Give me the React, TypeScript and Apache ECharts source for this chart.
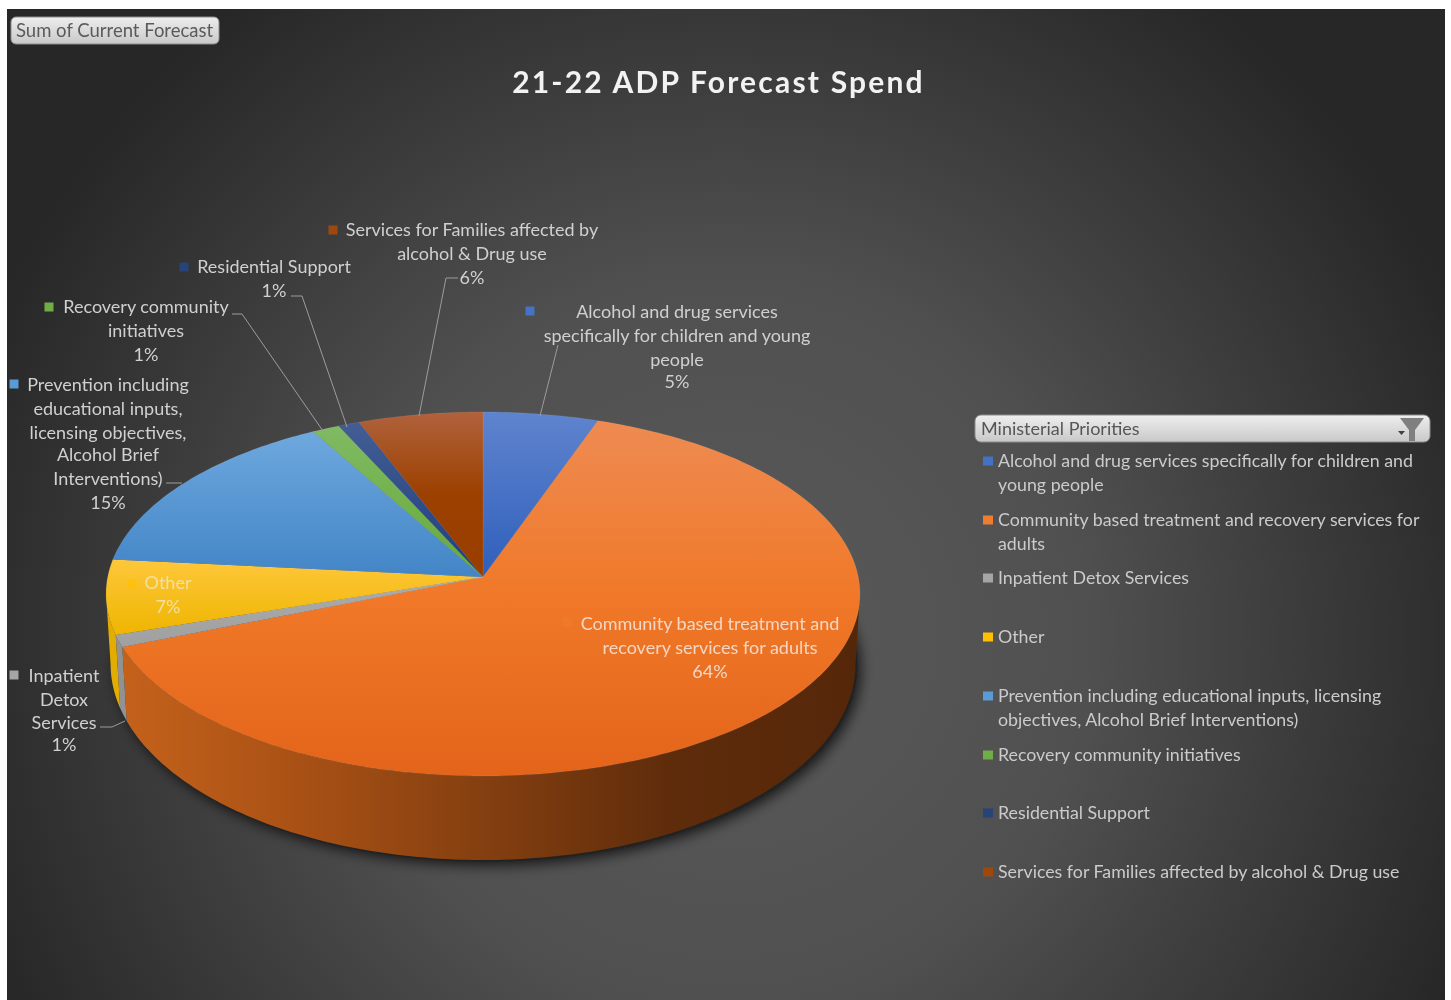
import React, { useEffect, useRef } from "react";
import * as echarts from "echarts";

const titleText = "21-22 ADP Forecast Spend";
const fieldButtonText = "Sum of Current Forecast";
const legendTitle = "Ministerial Priorities";
const categories = [
  "Alcohol and drug services specifically for children and young people",
  "Community based treatment and recovery services for adults",
  "Inpatient Detox Services",
  "Other",
  "Prevention including educational inputs, licensing objectives, Alcohol Brief Interventions)",
  "Recovery community initiatives",
  "Residential Support",
  "Services for Families affected by alcohol & Drug use",
];
const shares = [5.4, 63.5, 1.05, 6.6, 15.3, 1.3, 1.0, 5.85];
const legendLines = [
  ["Alcohol and drug services specifically for children and", "young people"],
  ["Community based treatment and recovery services for", "adults"],
  ["Inpatient Detox Services"],
  ["Other"],
  ["Prevention including educational inputs, licensing", "objectives, Alcohol Brief Interventions)"],
  ["Recovery community initiatives"],
  ["Residential Support"],
  ["Services for Families affected by alcohol & Drug use"],
];
const labelLines = [
  ["Alcohol and drug services", "specifically for children and young", "people"],
  ["Community based treatment and", "recovery services for adults"],
  ["Inpatient", "Detox", "Services"],
  ["Other"],
  ["Prevention including", "educational inputs,", "licensing objectives,", "Alcohol Brief", "Interventions)"],
  ["Recovery community", "initiatives"],
  ["Residential Support"],
  ["Services for Families affected by", "alcohol & Drug use"],
];
const legendColors = ["#4472C4", "#ED7D31", "#A5A5A5", "#FFC000", "#5B9BD5", "#70AD47", "#264478", "#9E480E"];
const topStops = [
  ["#5F84CE", "#2F5FBB"],
  ["#EE8B52", "#F07828", "#E3641A"],
  ["#ABABAB", "#A0A0A0"],
  ["#FEC73A", "#EFB500"],
  ["#6EA8DE", "#4285C6"],
  ["#80BA64", "#66AA38"],
  ["#445E94", "#1E3E7E"],
  ["#B0623C", "#9C4000", "#9A3E00"],
];
const wallStops = [
  ["#2F4F8F", "#2F4F8F"],
  ["#C6631C", "#A95115", "#843F10", "#5E2C0B", "#552709"],
  ["#929292", "#858585"],
  ["#E2AC00", "#CF9C00"],
  ["#3B6E9E", "#3B6E9E"],
  ["#4F7E30", "#4F7E30"],
  ["#1D3560", "#1D3560"],
  ["#6E3208", "#6E3208"],
];

const CX = 483, CY = 577, A = 375.3, B = 180.4, K = 0.0935;
const sum = shares.reduce((a, b) => a + b, 0);
const cumulative = shares.map((_, i) => shares.slice(0, i).reduce((a, b) => a + b, 0));
const rim = (deg: number) => {
  const t = (deg * Math.PI) / 180;
  const d = 1 + K * Math.cos(t);
  return [CX + (A * Math.sin(t)) / d, CY - (B * Math.cos(t)) / d];
};
const lower = (p: number[]) => [CX + (p[0] - CX) * 0.988, p[1] + 74 + (p[1] - 646) * 0.077];
const arc = (from: number, to: number) => {
  const n = Math.max(2, Math.ceil(Math.abs(to - from)));
  return Array.from({ length: n + 1 }, (_, i) => rim(from + ((to - from) * i) / n));
};
const gradient = (stops: string[], x: number, y: number, x2: number, y2: number, global: boolean) => ({
  type: "linear", x, y, x2, y2, global,
  colorStops: stops.map((color, i) => ({ offset: i / (stops.length - 1), color })),
});
const VIS_FROM = 95.4, VIS_TO = 264.6;

const renderWall = (params: any, api: any) => {
  const i = params.dataIndex;
  const s = Math.max((api.value(1) / sum) * 360, VIS_FROM);
  const e = Math.min(((api.value(1) + api.value(0)) / sum) * 360, VIS_TO);
  if (e <= s) return { type: "group", children: [] };
  const top = arc(s, e);
  const points = [...top, ...top.slice().reverse().map(lower)];
  return {
    type: "polygon",
    shape: { points },
    style: { fill: gradient(wallStops[i], 110, 0, 860, 0, true) },
    silent: true,
  };
};
const renderTop = (params: any, api: any) => {
  const i = params.dataIndex;
  const s = (api.value(1) / sum) * 360;
  const e = ((api.value(1) + api.value(0)) / sum) * 360;
  return {
    type: "polygon",
    shape: { points: [[CX, CY], ...arc(s, e)] },
    style: {
      fill: gradient(topStops[i], 0, 0, 0, 1, false),
      stroke: "rgba(255,255,255,0.12)",
      lineWidth: 0.6,
    },
    silent: true,
  };
};

const FONT = "Lato";
const LABEL = "#D0D0D0";
const labelLayout = [
  { x: 677, ys: [311, 335, 359, 381], ix: 530, iy: 311, color: LABEL },
  { x: 710, ys: [623, 647, 671], ix: 567, iy: 622, color: "#F3D6C4" },
  { x: 64, ys: [675, 699, 722, 744], ix: 14, iy: 675, color: LABEL },
  { x: 168, ys: [582, 606], ix: 132, iy: 584, color: "#F2E0A2" },
  { x: 108, ys: [384, 408, 432, 454, 478, 502], ix: 14, iy: 384, color: LABEL },
  { x: 146, ys: [306, 330, 354], ix: 49, iy: 307, color: LABEL },
  { x: 274, ys: [266, 290], ix: 184, iy: 267, color: LABEL },
  { x: 472, ys: [229, 253, 277], ix: 333, iy: 230, color: LABEL },
];
const leaderLines = [
  [[558, 345], [540, 416]],
  [[100, 727], [112, 727], [125, 721]],
  [[166, 483], [182, 483]],
  [[232, 314], [242, 314], [323, 431]],
  [[291, 296], [302, 296], [347, 427]],
  [[458, 278], [446, 278], [419, 416]],
];
const legendRowY = [460, 519, 577, 636, 695, 754, 812, 871];

const text = (t: string, x: number, y: number, o: any = {}) => ({
  type: "text", z: 20, silent: true,
  x, y,
  style: {
    text: t, x: 0, y: 0,
    fill: o.fill ?? LABEL,
    font: `${o.weight ?? "normal"} ${o.size ?? 18}px ${FONT}`,
    align: o.align ?? "center",
    verticalAlign: "middle",
  },
});

function buildGraphic() {
  const els: any[] = [];
  els.push({
    type: "rect", z: -10, silent: true,
    shape: { x: 7, y: 9, width: 1438, height: 991 },
    style: {
      fill: {
        type: "radial", x: 726, y: 640, r: 800, global: true,
        colorStops: [
          { offset: 0, color: "#5A5A5A" },
          { offset: 0.45, color: "#505050" },
          { offset: 1, color: "#272727" },
        ],
      },
    },
  });
  // soft shadow under the pie
  els.push({
    type: "polygon", z: -5, silent: true,
    shape: { points: arc(80, 280).map(lower).map((p) => [p[0] + 2, p[1] + 2]) },
    style: { fill: "#222", shadowBlur: 14, shadowColor: "rgba(0,0,0,0.75)", shadowOffsetX: 3, shadowOffsetY: 3 },
  });
  // field button
  els.push({
    type: "rect", z: 15, silent: true,
    shape: { x: 11, y: 17, width: 208, height: 27, r: 5 },
    style: { fill: gradient(["#EDEDED", "#C9C9C9"], 0, 0, 0, 1, false), stroke: "#8C8C8C", lineWidth: 1 },
  });
  els.push(text(fieldButtonText, 16, 29.5, { align: "left", fill: "#5A5A5A", size: 18.5 }));
  // title
  els.push(text(titleText, 718.5, 81, { size: 30, weight: "bold", fill: "#F2F2F2" }));
  // data labels
  labelLines.forEach((lines, i) => {
    const l = labelLayout[i];
    const all = [...lines, `${Math.round((shares[i] / sum) * 100)}%`];
    all.forEach((t, j) => els.push(text(t, l.x, l.ys[j], { fill: l.color })));
    const light = i === 1 || i === 3;
    els.push({
      type: "rect", z: 20, silent: true,
      shape: { x: l.ix - 4.5, y: l.iy - 4.5, width: 9, height: 9 },
      style: { fill: legendColors[i], opacity: light ? 0.6 : 1 },
    });
  });
  leaderLines.forEach((points) =>
    els.push({
      type: "polyline", z: 18, silent: true,
      shape: { points },
      style: { stroke: "#9C9C9C", lineWidth: 1, fill: "none" },
    })
  );
  // legend
  els.push({
    type: "rect", z: 15, silent: true,
    shape: { x: 975, y: 415, width: 455, height: 27, r: 6 },
    style: { fill: gradient(["#EFEFEF", "#C8C8C8"], 0, 0, 0, 1, false), stroke: "#8C8C8C", lineWidth: 1 },
  });
  els.push(text(legendTitle, 981, 428, { align: "left", fill: "#565656", size: 18 }));
  els.push({
    type: "polygon", z: 20, silent: true,
    shape: { points: [[1400, 418], [1424, 418], [1415, 430], [1415, 441], [1409, 441], [1409, 430]] },
    style: { fill: "#7F7F7F" },
  });
  els.push({
    type: "polygon", z: 20, silent: true,
    shape: { points: [[1398, 431], [1405, 431], [1401.5, 435]] },
    style: { fill: "#404040" },
  });
  legendLines.forEach((lines, i) => {
    els.push({
      type: "rect", z: 20, silent: true,
      shape: { x: 983, y: legendRowY[i] - 3.5, width: 10, height: 9 },
      style: { fill: legendColors[i] },
    });
    lines.forEach((t, j) =>
      els.push(text(t, 998, legendRowY[i] + j * 24, { align: "left", fill: "#CBCBCB", size: 17.8 }))
    );
  });
  return els;
}

export default function App() {
  const ref = useRef<HTMLDivElement>(null);
  useEffect(() => {
    const chart = echarts.init(ref.current!, null, { renderer: "svg" });
    const data = shares.map((v, i) => ({ name: categories[i], value: [v, cumulative[i]] }));
    chart.setOption({
      animation: false,
      backgroundColor: "#FFFFFF",
      tooltip: { show: false },
      graphic: { elements: buildGraphic() },
      series: [
        { type: "custom", name: "Walls", coordinateSystem: "none", renderItem: renderWall, data, z: 3, silent: true },
        { type: "custom", name: "Sum of Current Forecast", coordinateSystem: "none", renderItem: renderTop, data, z: 4, silent: true },
      ],
    });
    // the title in the reference is letter-spaced; zrender has no option for it
    ref.current!.querySelectorAll("text").forEach((t) => {
      if (t.textContent === titleText) (t as SVGTextElement).style.letterSpacing = "2.2px";
    });
    return () => chart.dispose();
  }, []);
  return (
    <div style={{ position: "fixed", left: 0, top: 0, width: 1451, height: 1000, overflow: "hidden", filter: "blur(0.5px)" }}>
      <div ref={ref} style={{ width: 1451, height: 1000 }} />
    </div>
  );
}
